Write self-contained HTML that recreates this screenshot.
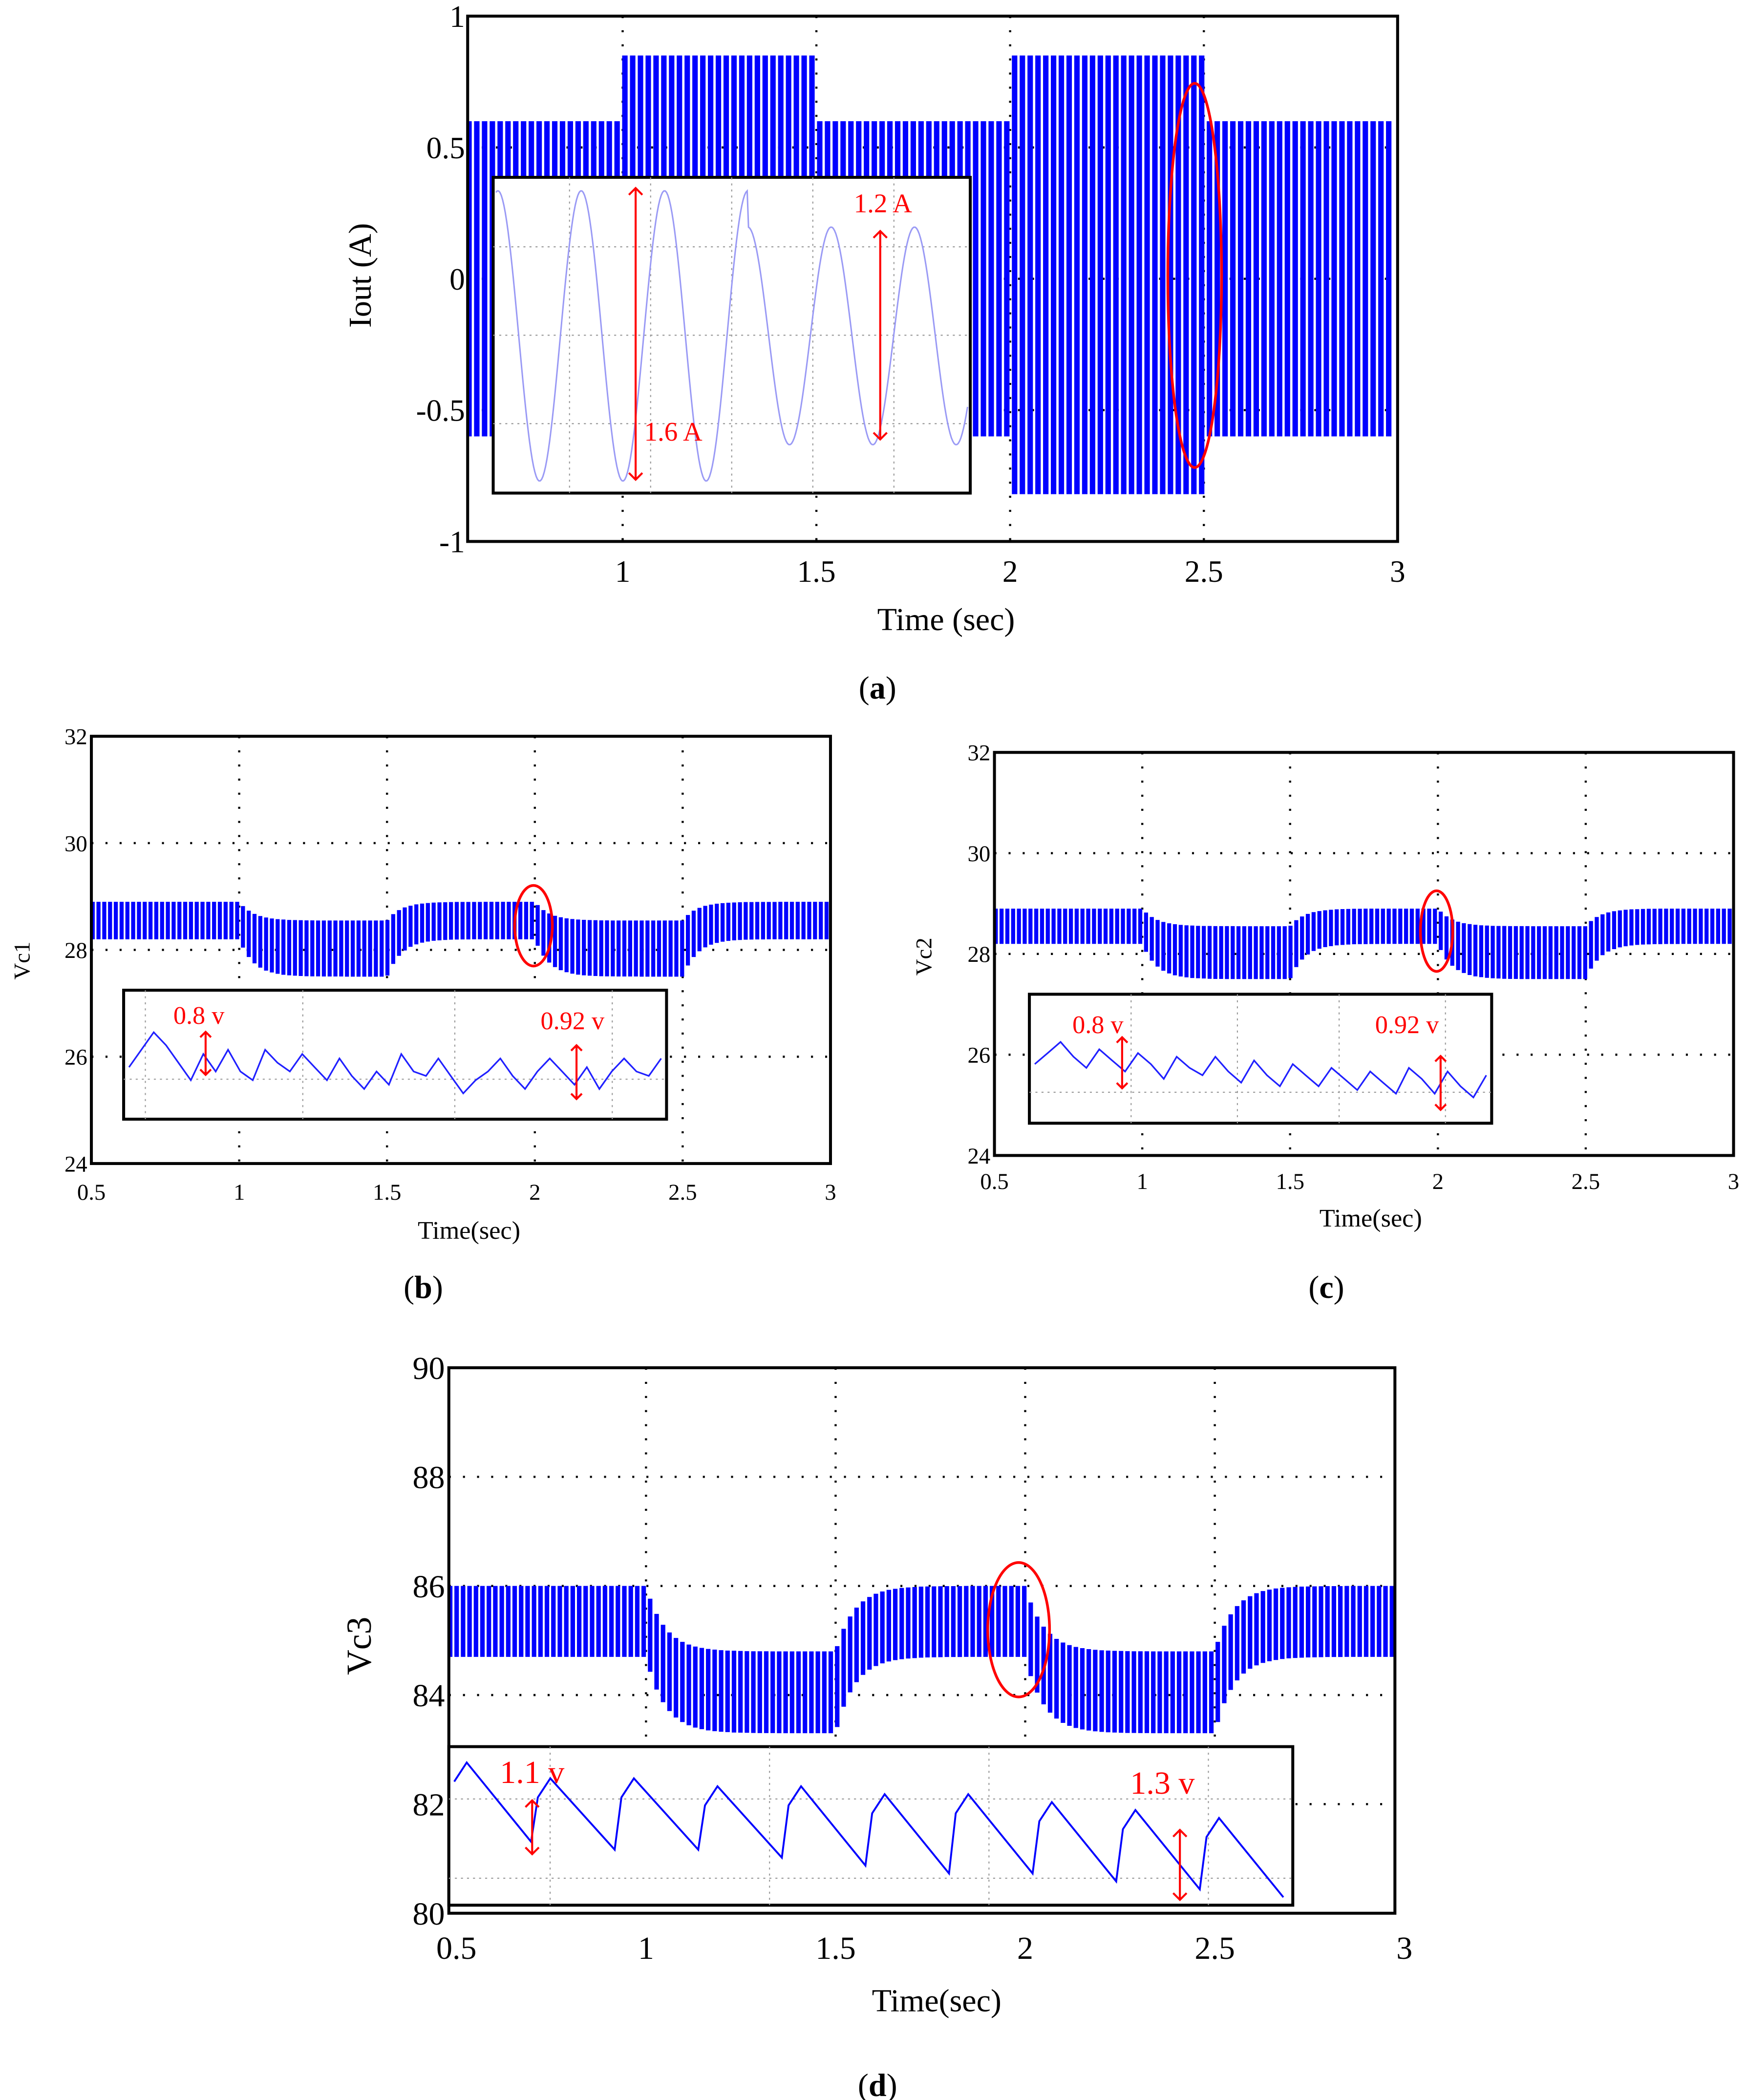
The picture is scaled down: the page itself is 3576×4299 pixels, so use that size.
<!DOCTYPE html>
<html><head><meta charset="utf-8"><style>
html,body{margin:0;padding:0;background:#fff}
svg{display:block}
text{font-family:"Liberation Serif",serif}
</style></head><body>
<svg id="fig" width="3576" height="4299" viewBox="0 0 1300 1563" preserveAspectRatio="none" xmlns="http://www.w3.org/2000/svg">
<g id="ga"></g>
<g id="gb"></g>
<g id="gc"></g>
<g id="gd"></g>
</svg>
<script>
// ---- data ----
const aSegT=[0.6,1,1.5,2,2.5,3];
const aUpper=[0.6,0.85,0.6,0.85,0.6];
const aLower=[-0.6,-0.6,-0.6,-0.82,-0.6];
const aXTicks=[1,1.5,2,2.5,3];
const aYTicks=[1,0.5,0,-0.5,-1];
const aInsetAmps=[1.6,1.6,1.6,1.2,1.2,1.2];
const bSegT=[0.5,1,1.5,2,2.5,3];
const bUpper=[28.9,28.55,28.9,28.55,28.9];
const bLower=[28.2,27.5,28.2,27.5,28.2];
const cUpper=[28.9,28.55,28.9,28.55,28.9];
const cLower=[28.2,27.5,28.2,27.5,28.2];
const bcYTicks=[32,30,28,26,24];
const bcXTicks=[0.5,1,1.5,2,2.5,3];
const dSegT=[0.5,1,1.5,2,2.5,3];
const dUpper=[86,84.8,86,84.8,86];
const dLower=[84.7,83.3,84.7,83.3,84.7];
const dYTicks=[90,88,86,84,82,80];
const dXTicks=[0.5,1,1.5,2,2.5,3];
const bInset=[0.35,0.55,0.75,0.6,0.4,0.2,0.5,0.3,0.55,0.3,0.2,0.55,0.4,0.3,0.5,0.35,0.2,0.45,0.25,0.1,0.3,0.15,0.5,0.3,0.25,0.45,0.25,0.05,0.2,0.3,0.45,0.25,0.1,0.3,0.45,0.3,0.15,0.35,0.1,0.3,0.45,0.3,0.25,0.45];
const cInset=[0.6,0.75,0.9,0.7,0.55,0.8,0.65,0.5,0.75,0.6,0.4,0.7,0.55,0.45,0.7,0.5,0.35,0.65,0.45,0.3,0.6,0.45,0.3,0.55,0.4,0.25,0.5,0.35,0.2,0.55,0.4,0.2,0.5,0.3,0.15,0.45];
const dInsetPeaks=[0.9,0.8,0.8,0.75,0.75,0.7,0.7,0.65,0.6,0.55];
const dInsetTroughs=[0.4,0.35,0.35,0.3,0.25,0.2,0.2,0.15,0.1,0.05];
// ---- helpers ----
const NS="http://www.w3.org/2000/svg";
function mk(p,tag,at){const e=document.createElementNS(NS,tag);for(const k in at)e.setAttribute(k,at[k]);p.appendChild(e);return e;}
function txt(p,x,y,s,size,anchor,fill,name,rot){const e=mk(p,'text',{x:x,y:y,'font-size':size,'text-anchor':anchor||'middle',fill:fill||'#000'});
if(rot)e.setAttribute('transform','rotate(-90 '+x+' '+y+')');e.textContent=s;

return e;}
function segIdx(seg,t){for(let i=0;i<seg.length-1;i++)if(t<seg[i+1])return i;return seg.length-2;}
function panel(g,o){
 const X=t=>o.x0+(t-o.t0)*(o.x1-o.x0)/(o.t1-o.t0);
 const Y=v=>o.y0+(o.v1-v)*(o.y1-o.y0)/(o.v1-o.v0);
 o.gx.forEach(t=>{const l=mk(g,'line',{x1:X(t),x2:X(t),y1:o.y0,y2:o.y1,stroke:'#000','stroke-width':1.6,'stroke-dasharray':'1.5 9'});
 
 });
 o.gy.forEach(v=>{const l=mk(g,'line',{x1:o.x0,x2:o.x1,y1:Y(v),y2:Y(v),stroke:'#000','stroke-width':1.6,'stroke-dasharray':'1.5 9'});
 
 });
 let d='';const step=o.step;let k=0;
 for(let px=o.x0+1;px<o.x1-1;px+=step,k++){
  const t=o.t0+(px-o.x0)*(o.t1-o.t0)/(o.x1-o.x0);
  const i=segIdx(o.seg,t);
  let up=o.up[i],lo=o.lo[i];
  if(o.tau&&i>0){const dt=t-o.seg[i];const f=Math.exp(-dt/o.tau);up=up+(o.up[i-1]-up)*f;lo=lo+(o.lo[i-1]-lo)*f;}
  d+='M'+px.toFixed(1)+' '+Y(up).toFixed(1)+'V'+Y(lo).toFixed(1);
 }
 const s=mk(g,'path',{d:d,stroke:'#0000ff','stroke-width':step*0.7,fill:'none'});
 
 
 o.yt.forEach(v=>txt(g,o.x0-o.ylOff,Y(v)+o.fs*0.35,String(v),o.fs,'end','#000','y-tick-label'));
 o.xt.forEach(t=>txt(g,X(t),o.y1+o.xlOff,String(t),o.fs,'middle','#000','x-tick-label'));
 const b=mk(g,'rect',{x:o.x0,y:o.y0,width:o.x1-o.x0,height:o.y1-o.y0,fill:'none',stroke:'#000','stroke-width':2.2});
 
 
 return {X,Y};
}
function insetBox(g,x,y,w,h,gx,gy){
 const r=mk(g,'rect',{x:x,y:y,width:w,height:h,fill:'#fff',stroke:'#000','stroke-width':2.2});
 
 
 gx.forEach(f=>{const l=mk(g,'line',{x1:x+f*w,x2:x+f*w,y1:y,y2:y+h,stroke:'#999','stroke-width':0.8,'stroke-dasharray':'1.5 3'});
 
 });
 gy.forEach(f=>{const l=mk(g,'line',{x1:x,x2:x+w,y1:y+f*h,y2:y+f*h,stroke:'#999','stroke-width':0.8,'stroke-dasharray':'1.5 3'});
 
 });
}
function arrow(g,x,y1,y2,w){
 const a=mk(g,'path',{d:`M${x} ${y1}V${y2}M${x-w} ${y1+w}L${x} ${y1}L${x+w} ${y1+w}M${x-w} ${y2-w}L${x} ${y2}L${x+w} ${y2-w}`,stroke:'#ff0000','stroke-width':1.5,fill:'none'});
 
 
}
function ellipse(g,cx,cy,rx,ry){
 const e=mk(g,'ellipse',{cx:cx,cy:cy,rx:rx,ry:ry,fill:'none',stroke:'#ff0000','stroke-width':2});
 
 
}
function caption(g,x,y,letter){
 const e=mk(g,'text',{x:x,y:y,'font-size':24,'text-anchor':'middle'});
 e.innerHTML='(<tspan font-weight="bold">'+letter+'</tspan>)';
 
 
}
function noisy(g,x,y,w,h,arr,top,bot){
 let d='';arr.forEach((v,i)=>{const px=x+4+i*(w-8)/(arr.length-1);const py=y+top+(1-v)*(bot-top);d+=(i?'L':'M')+px.toFixed(1)+' '+py.toFixed(1);});
 const p=mk(g,'path',{d:d,stroke:'#2020ff','stroke-width':1.2,fill:'none'});
 
 
}
// ---- panel a ----
const ga=document.getElementById('ga');
panel(ga,{x0:348,x1:1040,y0:12,y1:403,t0:0.6,t1:3,v0:-1,v1:1,seg:aSegT,up:aUpper,lo:aLower,gx:[1,1.5,2,2.5],gy:[0.5,0,-0.5],xt:aXTicks,yt:aYTicks,step:5.8,fs:23,ylOff:2,xlOff:30});
insetBox(ga,367,132,355,235,[0.16,0.33,0.5,0.67,0.84],[0.22,0.5,0.78]);
(function(){let d='';const x0=369,w=351,cy=250,per=62,ph=14;
 for(let px=0;px<=w;px+=1){const k=Math.min(5,Math.max(0,Math.floor((px+ph-per*0.25)/per)));
 const amp=aInsetAmps[k]*108/1.6;const yy=cy-amp*Math.sin(2*Math.PI*(px+ph)/per);d+=(px?'L':'M')+(x0+px)+' '+yy.toFixed(1);}
 const p=mk(ga,'path',{d:d,stroke:'#9a9af5','stroke-width':1.1,fill:'none'});
 
 })();
arrow(ga,473,140,357,5);arrow(ga,655,172,327,5);
txt(ga,657,158,'1.2 A',20,'middle','#ff0000','label-1-2A');
txt(ga,501,328,'1.6 A',20,'middle','#ff0000','label-1-6A');
ellipse(ga,889,205,20,143);
txt(ga,276,205,'Iout (A)',24,'middle','#000','y-axis-title',true);
txt(ga,704,469,'Time (sec)',24,'middle','#000','x-axis-title');
caption(ga,653,520,'a');
// ---- panel b ----
const gb=document.getElementById('gb');
panel(gb,{x0:68,x1:618,y0:548,y1:866,t0:0.5,t1:3,v0:24,v1:32,seg:bSegT,up:bUpper,lo:bLower,gx:[1,1.5,2,2.5],gy:[30,28,26],xt:bcXTicks,yt:bcYTicks,step:4.3,fs:17,ylOff:3,xlOff:27,tau:0.05});
insetBox(gb,92,737,404,96,[0.04,0.33,0.61,0.9],[0.69]);
noisy(gb,92,737,404,96,bInset,15,80);
arrow(gb,153,768,800,4);arrow(gb,429,778,818,4);
txt(gb,148,762,'0.8 v',19,'middle','#ff0000','label-0-8v');
txt(gb,426,766,'0.92 v',19,'middle','#ff0000','label-0-92v');
ellipse(gb,397,689,14,30);
txt(gb,22,715,'Vc1',17,'middle','#000','y-axis-title',true);
txt(gb,349,922,'Time(sec)',19,'middle','#000','x-axis-title');
caption(gb,315,966,'b');
// ---- panel c ----
const gc=document.getElementById('gc');
panel(gc,{x0:740,x1:1290,y0:560,y1:860,t0:0.5,t1:3,v0:24,v1:32,seg:bSegT,up:cUpper,lo:cLower,gx:[1,1.5,2,2.5],gy:[30,28,26],xt:bcXTicks,yt:bcYTicks,step:4.3,fs:17,ylOff:3,xlOff:25,tau:0.05});
insetBox(gc,766,740,344,96,[0.22,0.45,0.67,0.9],[0.76]);
noisy(gc,766,740,344,96,cInset,30,85);
arrow(gc,835,772,810,4);arrow(gc,1072,786,826,4);
txt(gc,817,769,'0.8 v',19,'middle','#ff0000','label-0-8v');
txt(gc,1047,769,'0.92 v',19,'middle','#ff0000','label-0-92v');
ellipse(gc,1069,693,12,30);
txt(gc,693,712,'Vc2',17,'middle','#000','y-axis-title',true);
txt(gc,1020,913,'Time(sec)',19,'middle','#000','x-axis-title');
caption(gc,987,966,'c');
// ---- panel d ----
const gd=document.getElementById('gd');
panel(gd,{x0:334,x1:1038,y0:1018,y1:1424,t0:0.48,t1:2.975,v0:80,v1:90,seg:dSegT,up:dUpper,lo:dLower,gx:[1,1.5,2,2.5],gy:[88,86,84,82],xt:dXTicks,yt:dYTicks,step:4.8,fs:24,ylOff:3,xlOff:34,tau:0.05});
insetBox(gd,334,1300,628,118,[0.12,0.38,0.64,0.9],[0.33,0.83]);
(function(){let d='';const x0=338,w=622,y0=1300,h=118,n=dInsetPeaks.length;const sw=w/n;
 for(let i=0;i<n;i++){const xa=x0+i*sw;const yp=y0+(1-dInsetPeaks[i])*h;const yt=y0+(1-dInsetTroughs[i])*h;
 d+=(i?'L':'M')+xa.toFixed(1)+' '+(y0+(1-dInsetPeaks[i]+0.12)*h).toFixed(1);
 d+='L'+(xa+sw*0.15).toFixed(1)+' '+yp.toFixed(1)+'L'+(xa+sw*0.92).toFixed(1)+' '+yt.toFixed(1);}
 const p=mk(gd,'path',{d:d,stroke:'#0000ff','stroke-width':1.4,fill:'none'});
 
 })();
arrow(gd,396,1340,1380,5);arrow(gd,878,1362,1414,5);
txt(gd,396,1327,'1.1 v',24,'middle','#ff0000','label-1-1v');
txt(gd,865,1335,'1.3 v',24,'middle','#ff0000','label-1-3v');
ellipse(gd,758,1213,23,50);
txt(gd,276,1225,'Vc3',26,'middle','#000','y-axis-title',true);
txt(gd,697,1497,'Time(sec)',24,'middle','#000','x-axis-title');
caption(gd,653,1560,'d');
</script>
</body></html>
